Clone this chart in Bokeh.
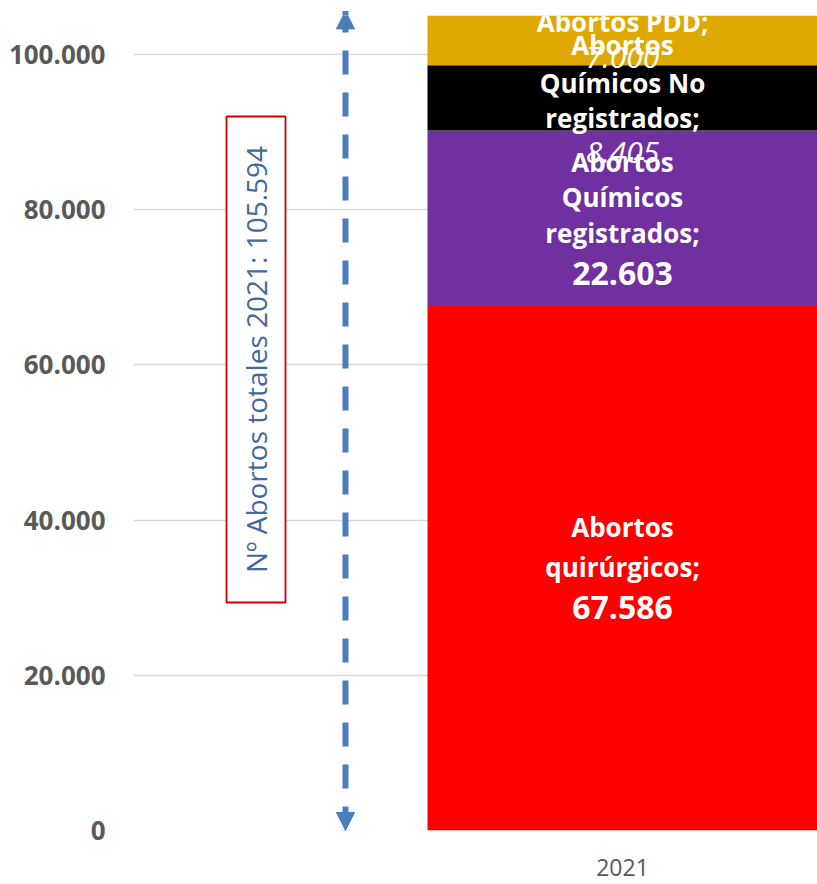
from bokeh.plotting import figure
from bokeh.models import Range1d, FixedTicker, Arrow, NormalHead, ColumnDataSource
from bokeh.core.properties import value
from bokeh.embed import file_html
from bokeh.resources import INLINE

# ---------------- data ----------------
categories = ["2021"]
segment_names = [
    ["Abortos", "quirúrgicos;"],
    ["Abortos", "Químicos", "registrados;"],
    ["Abortos", "Químicos No", "registrados;"],
    ["Abortos PDD;"],
]
segment_values = [67586, 22603, 8405, 7000]
y_ticks = [0, 20000, 40000, 60000, 80000, 100000]
y_tick_labels = ["0", "20.000", "40.000", "60.000", "80.000", "100.000"]
total_label = "Nº Abortos totales"

# ---------------- styles ----------------
seg_colors = ["#FF0000", "#7030A0", "#000000", "#DFA800"]
line_offsets = [[-41, -1, 39], [-56, -21, 15, 55], [-53, -15, 20, 55], [-16, 19]]
value_styles = [("32px", "bold"), ("32px", "bold"), ("30px", "italic"), ("30px", "italic")]
FONT = "Open Sans"
GREY = "#595959"


def fmt(v):
    return f"{v:,}".replace(",", ".")


total = sum(segment_values)
bottoms, tops = [], []
acc = 0
for v in segment_values:
    bottoms.append(acc)
    acc += v
    tops.append(acc)

cat_x = 0.0
bar_src = ColumnDataSource(dict(
    x=[cat_x] * len(segment_values), bottom=bottoms, top=tops, color=seg_colors))

p = figure(width=817, height=884, output_backend="svg", toolbar_location=None,
           x_range=Range1d(-1.2538, 0.5), y_range=Range1d(0, 105000),
           min_border_left=133, min_border_right=0, min_border_top=15, min_border_bottom=54)
p.outline_line_color = None
p.background_fill_color = "white"
p.border_fill_color = "white"

p.vbar(x="x", bottom="bottom", top="top", width=1.0, fill_color="color",
       line_color=None, source=bar_src)

# labels inside the segments
lx, ly, lt, lsize, lstyle, loff = [], [], [], [], [], []
for i, (names, v) in enumerate(zip(segment_names, segment_values)):
    centre = (bottoms[i] + tops[i]) / 2
    lines = names + [fmt(v)]
    for j, t in enumerate(lines):
        lx.append(cat_x)
        ly.append(centre)
        lt.append(t)
        loff.append(line_offsets[i][j])
        if j == len(lines) - 1:
            lsize.append(value_styles[i][0])
            lstyle.append(value_styles[i][1])
        else:
            lsize.append("26px")
            lstyle.append("bold")

lab_src = ColumnDataSource(dict(x=lx, y=ly, text=lt, size=lsize, style=lstyle, off=loff))
p.text(x="x", y="y", text="text", y_offset="off", text_font_size="size",
       text_font_style="style", text_font=value(FONT), text_color="white",
       text_align="center", text_baseline="middle", source=lab_src)

# total arrow
arrow_x = -0.7103
ac = "#4A7DBB"
p.add_layout(Arrow(
    start=NormalHead(size=18, fill_color=ac, line_color=ac, line_width=1),
    end=NormalHead(size=18, fill_color=ac, line_color=ac, line_width=1),
    x_start=arrow_x, y_start=0, x_end=arrow_x, y_end=total,
    line_color=ac, line_width=6, line_dash="24 18"))

# boxed total label
box_x, box_y = -0.9397, 60680
p.rect(x=[box_x], y=[box_y], width=59, height=486, width_units="screen",
       height_units="screen", fill_color="white", line_color="#CC0000", line_width=1.8)
p.text(x=[box_x], y=[box_y], text=[f"{total_label} {categories[0]}: {fmt(total)}"],
       angle=1.5707963, text_align="center", text_baseline="middle",
       text_font=value(FONT), text_font_size="28px", text_color="#41699D")

# axes
p.yaxis.ticker = FixedTicker(ticks=y_ticks)
p.yaxis.major_label_overrides = {t: l for t, l in zip(y_ticks, y_tick_labels)}
p.yaxis.axis_line_color = None
p.yaxis.major_tick_line_color = None
p.yaxis.minor_tick_line_color = None
p.yaxis.major_tick_out = 0
p.yaxis.major_label_standoff = 28
p.yaxis.major_label_text_font = FONT
p.yaxis.major_label_text_font_style = "bold"
p.yaxis.major_label_text_font_size = "26px"
p.yaxis.major_label_text_color = GREY

p.xaxis.ticker = FixedTicker(ticks=[cat_x])
p.xaxis.major_label_overrides = {cat_x: categories[0]}
p.xaxis.axis_line_color = None
p.xaxis.major_tick_line_color = None
p.xaxis.minor_tick_line_color = None
p.xaxis.major_tick_out = 0
p.xaxis.major_label_standoff = 28
p.xaxis.major_label_text_font = FONT
p.xaxis.major_label_text_font_size = "23px"
p.xaxis.major_label_text_color = GREY

p.xgrid.grid_line_color = None
p.ygrid.ticker = FixedTicker(ticks=y_ticks)
p.ygrid.grid_line_color = "#D9D9D9"
p.ygrid.grid_line_width = 1.5

open("out.html", "w").write(file_html(p, INLINE))
